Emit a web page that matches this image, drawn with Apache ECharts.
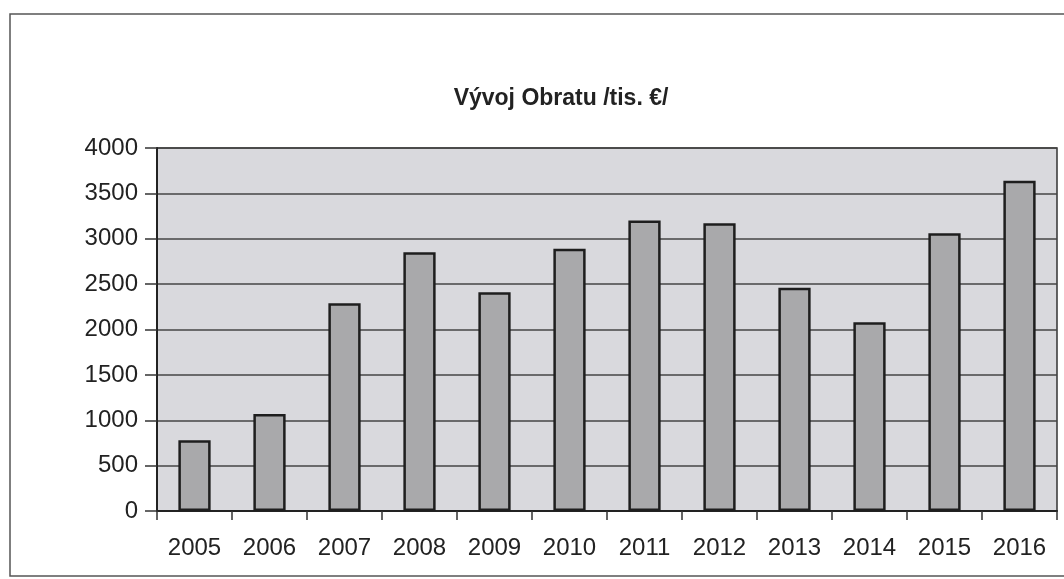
<!DOCTYPE html>
<html>
<head>
<meta charset="utf-8">
<script src="https://cdn.jsdelivr.net/npm/echarts@6/dist/echarts.min.js"></script>
<style>
    html, body { margin: 0; padding: 0; background: #fff; }
    #chart { width: 1064px; height: 579px; }
</style>
</head>
<body>
<div id="chart"></div>
<script>
    var years = ['2005','2006','2007','2008','2009','2010','2011','2012','2013','2014','2015','2016'];
    var obrat = [780, 1070, 2290, 2850, 2410, 2890, 3200, 3170, 2460, 2080, 3060, 3640];

    var myChart = echarts.init(document.getElementById('chart'));

    var option = {
        backgroundColor: '#fff',
        animation: false,
        title: {
            text: 'Vývoj Obratu /tis. €/',
            left: 556,
            top: 82,
            textAlign: 'center',
            textStyle: {
                fontFamily: 'Liberation Sans, Arial',
                fontWeight: 'bold',
                fontSize: 23,
                color: '#222'
            }
        },
        graphic: [{
            type: 'rect',
            silent: true,
            shape: { x: 10, y: 14, width: 1080, height: 562 },
            style: { fill: 'none', stroke: '#555', lineWidth: 1.5 }
        }],
        grid: {
            left: 157,
            right: 7,
            top: 148,
            bottom: 68,
            show: true,
            backgroundColor: '#d9d9dd',
            borderColor: '#333',
            borderWidth: 1.5
        },
        xAxis: {
            type: 'category',
            data: years,
            boundaryGap: true,
            axisLine: { lineStyle: { color: '#222', width: 2 } },
            axisTick: { show: true, length: 9, alignWithLabel: false, lineStyle: { color: '#333', width: 1.5 } },
            axisLabel: {
                margin: 25,
                fontFamily: 'Liberation Sans, Arial',
                fontSize: 24,
                color: '#222'
            }
        },
        yAxis: {
            type: 'value',
            min: 0,
            max: 4000,
            interval: 500,
            axisLine: { show: true, lineStyle: { color: '#222', width: 2 } },
            axisTick: { show: true, length: 12, lineStyle: { color: '#333', width: 1.5 } },
            splitLine: { lineStyle: { color: '#444', width: 1.5 } },
            axisLabel: {
                margin: 19,
                formatter: function (v) { return String(v); },
                fontFamily: 'Liberation Sans, Arial',
                fontSize: 24,
                color: '#222'
            }
        },
        series: [{
            type: 'bar',
            data: obrat,
            barWidth: '43%',
            itemStyle: {
                color: '#a9a9ab',
                borderColor: '#1e1e1e',
                borderWidth: 2.5
            }
        }]
    };

    myChart.setOption(option);
</script>
</body>
</html>
